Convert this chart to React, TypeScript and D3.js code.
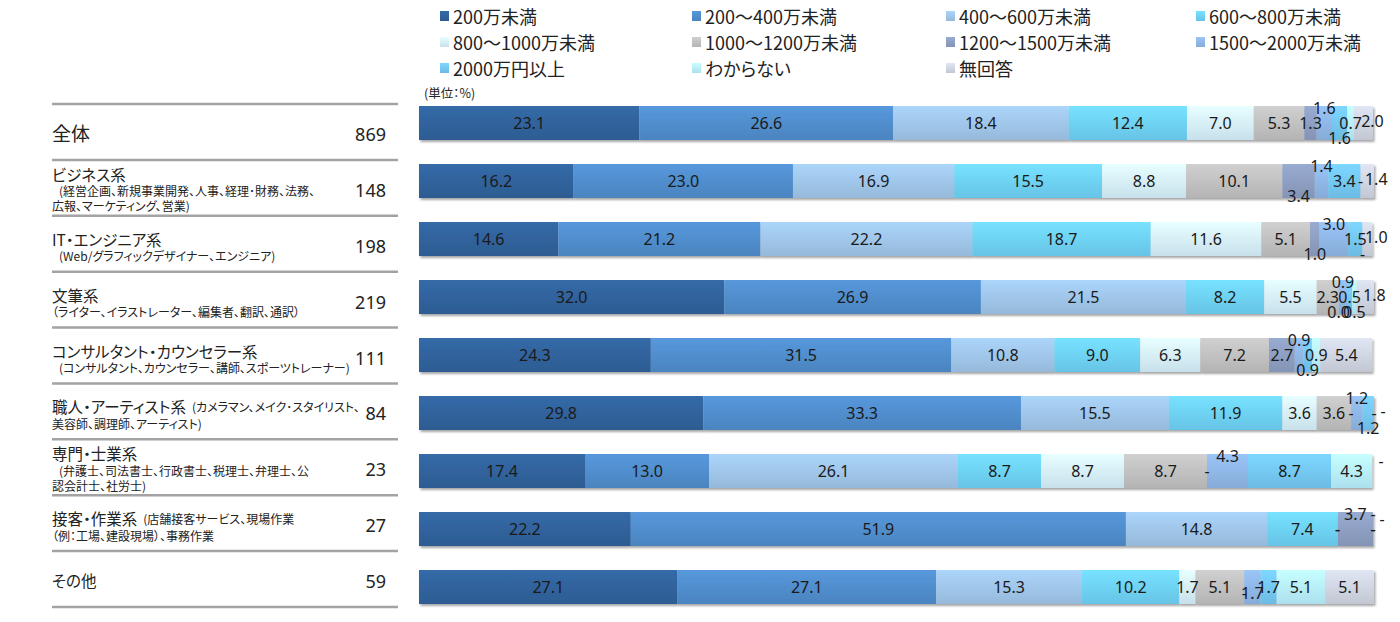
import * as d3 from 'd3';

const categories = [
  '全体',
  'ビジネス系',
  'IT・エンジニア系',
  '文筆系',
  'コンサルタント・カウンセラー系',
  '職人・アーティスト系',
  '専門・士業系',
  '接客・作業系',
  'その他',
];

// sub-captions; '\n' breaks the line, inline ones follow the title on its own line
const notes = [
  '',
  '(経営企画、新規事業開発、人事、経理･財務、法務、\n広報、マーケティング、営業)',
  '(Web/グラフィックデザイナー、エンジニア)',
  '（ライター、イラストレーター、編集者、翻訳、通訳）',
  '(コンサルタント、カウンセラー、講師、スポーツトレーナー)',
  '(カメラマン、メイク･スタイリスト、\n美容師、調理師、アーティスト)',
  '(弁護士、司法書士、行政書士、税理士、弁理士、公\n認会計士、社労士)',
  '(店舗接客サービス、現場作業\n（例：工場、建設現場）、事務作業',
  '',
];
const inlineNote = [false, false, false, false, false, true, false, true, false];

const counts = [869, 148, 198, 219, 111, 84, 23, 27, 59];

const brackets = [
  '200万未満',
  '200～400万未満',
  '400～600万未満',
  '600～800万未満',
  '800～1000万未満',
  '1000～1200万未満',
  '1200～1500万未満',
  '1500～2000万未満',
  '2000万円以上',
  'わからない',
  '無回答',
];

// shares in %, one value per bracket; null = nobody ("-")
const total = [23.1, 26.6, 18.4, 12.4, 7.0, 5.3, 1.3, 1.6, 1.6, 0.7, 2.0];
const business = [16.2, 23.0, 16.9, 15.5, 8.8, 10.1, 3.4, 1.4, 3.4, null, 1.4];
const engineer = [14.6, 21.2, 22.2, 18.7, 11.6, 5.1, 1.0, 3.0, 1.5, null, 1.0];
const writer = [32.0, 26.9, 21.5, 8.2, 5.5, 2.3, 0.0, 0.9, 0.5, 0.5, 1.8];
const consultant = [24.3, 31.5, 10.8, 9.0, 6.3, 7.2, 2.7, 0.9, 0.9, 0.9, 5.4];
const artisan = [29.8, 33.3, 15.5, 11.9, 3.6, 3.6, null, 1.2, 1.2, null, null];
const professional = [17.4, 13.0, 26.1, 8.7, 8.7, 8.7, null, 4.3, 8.7, 4.3, null];
const service = [22.2, 51.9, 14.8, 7.4, null, null, 3.7, null, null, null, null];
const other = [27.1, 27.1, 15.3, 10.2, 1.7, 5.1, null, 1.7, 1.7, 5.1, 5.1];

const rows: (number | null)[][] = [
  total, business, engineer, writer, consultant, artisan, professional, service, other,
];

const colors = [
  '#30619a', '#4f8bc9', '#9dc3e6', '#6dcff3', '#d3ecf8', '#bebebe',
  '#8b9cbf', '#8db4e3', '#72c5f1', '#b5ecfb', '#cdd2df',
];

// where the value label of the last five brackets sits, per row
// m = centre, u = above, d = below, s = slightly below, r = right of bar, q = right & up
const tailSpots = ['mudmr', 'dummr', 'dumdr', 'dumdr', 'mudmm', 'mudmr', 'mummq', 'uummq', 'ssmmm'];

const W = 1400;
const H = 622;
const jp = "'Noto Sans CJK JP', 'Noto Sans', sans-serif";
const palt = { fontFeatureSettings: '"palt"' } as const;

export default function App() {
  const table = rows.map((vals, i) => {
    const o: Record<string, number | string> = { cat: categories[i] };
    brackets.forEach((b, j) => (o[b] = vals[j] ?? 0));
    return o;
  });
  const layers = d3.stack<Record<string, number | string>>().keys(brackets)(table as any);

  const x = d3.scaleLinear().domain([0, 100]).range([419, 1373]);
  const y = d3.scaleBand<string>()
    .domain(categories)
    .range([94, 94 + categories.length * 58])
    .paddingInner(0.414)
    .paddingOuter(0.207);

  // left-hand table has its own slightly tighter row pitch
  const side = d3.scaleBand<string>().domain(categories).range([104, 607]);

  const legendX = [440, 692, 946, 1196];
  const legendY = [16, 42, 68];

  const spotOffset: Record<string, [number, number]> = {
    m: [0, 0], u: [0, -15], d: [0, 15], s: [0, 6], r: [9, -2], q: [9, -10],
  };

  return (
    <svg
      width={W}
      height={H}
      style={{ position: 'absolute', left: 0, top: 0, background: '#fff' }}
      fontFamily={jp}
    >
      <defs>
        {colors.map((c, i) => (
          <linearGradient key={i} id={`g${i}`} x1="0" y1="0" x2="0" y2="1">
            <stop offset="0%" stopColor={d3.color(c)!.brighter(0.25).formatHex()} />
            <stop offset="100%" stopColor={d3.color(c)!.darker(0.15).formatHex()} />
          </linearGradient>
        ))}
        <filter id="shadow" x="-2%" y="-20%" width="104%" height="150%">
          <feDropShadow dx="1.5" dy="2" stdDeviation="1.3" floodColor="#000" floodOpacity="0.35" />
        </filter>
      </defs>

      {/* legend */}
      {brackets.map((b, i) => {
        const lx = legendX[i % 4];
        const ly = legendY[Math.floor(i / 4)];
        return (
          <g key={b}>
            <rect x={lx} y={ly - 5} width={9} height={10} fill={`url(#g${i})`} />
            <text x={lx + 13} y={ly} dominantBaseline="central" fontSize={18} fill="#222" style={palt}>
              {b}
            </text>
          </g>
        );
      })}
      <text x={424} y={92} dominantBaseline="central" fontSize={12.5} fill="#222" style={palt}>
        (単位：%)
      </text>

      {/* left table rules */}
      {[...categories.map((c) => side(c)!), 607].map((ly, i) => (
        <line key={i} x1={52} x2={398} y1={ly} y2={ly} stroke="#a3a3a3" strokeWidth={2.5} />
      ))}

      {/* left table labels */}
      {categories.map((c, i) => {
        const mid = side(c)! + side.bandwidth() / 2;
        const noteLines = notes[i] ? notes[i].split('\n') : [];
        const lineCount = inlineNote[i] ? noteLines.length : noteLines.length + 1;
        const first = lineCount === 1 ? mid + 1 : lineCount === 2 ? mid - 5 : mid - 14;
        const gap = lineCount === 3 ? [0, 17, 32] : [0, 17];
        const titleSize = i === 0 ? 19 : 15.5;
        const rest = inlineNote[i] ? noteLines.slice(1) : noteLines;
        return (
          <g key={c} fill="#222" style={palt}>
            <text x={52} y={first} dominantBaseline="central" fontSize={titleSize}>
              {c}
              {inlineNote[i] && (
                <tspan dx={6} fontSize={12}>
                  {noteLines[0]}
                </tspan>
              )}
            </text>
            {rest.map((t, k) => {
              const startsNote = !inlineNote[i] && k === 0 && t.startsWith('(');
              return (
                <text
                  key={k}
                  x={startsNote ? 59 : 52}
                  y={first + gap[k + 1]}
                  dominantBaseline="central"
                  fontSize={12}
                >
                  {t}
                </text>
              );
            })}
            <text x={386} y={mid + 2} dominantBaseline="central" textAnchor="end" fontSize={18} fontFamily="'Noto Sans', sans-serif">
              {counts[i]}
            </text>
          </g>
        );
      })}

      {/* stacked bars */}
      {categories.map((c, r) => (
        <g key={c} filter="url(#shadow)">
          {layers.map((layer, j) => {
            const [a, b] = layer[r];
            return (
              <rect
                key={j}
                x={x(a)}
                y={y(c)!}
                width={Math.max(0, x(b) - x(a))}
                height={y.bandwidth()}
                fill={`url(#g${j})`}
              />
            );
          })}
        </g>
      ))}

      {/* value labels */}
      {categories.map((c, r) =>
        layers.map((layer, j) => {
          const [a, b] = layer[r];
          const v = rows[r][j];
          const spot = j >= 6 ? tailSpots[r][j - 6] : 'm';
          const [dx, dy] = spotOffset[spot];
          const cy = y(c)! + y.bandwidth() / 2;
          return (
            <text
              key={`${c}-${j}`}
              x={(x(a) + x(b)) / 2 + dx}
              y={cy + dy}
              dominantBaseline="central"
              textAnchor="middle"
              fontSize={16}
              fontFamily="'Noto Sans', sans-serif"
              fill="#1a1a1a"
            >
              {v === null ? '-' : v.toFixed(1)}
            </text>
          );
        }),
      )}
    </svg>
  );
}
